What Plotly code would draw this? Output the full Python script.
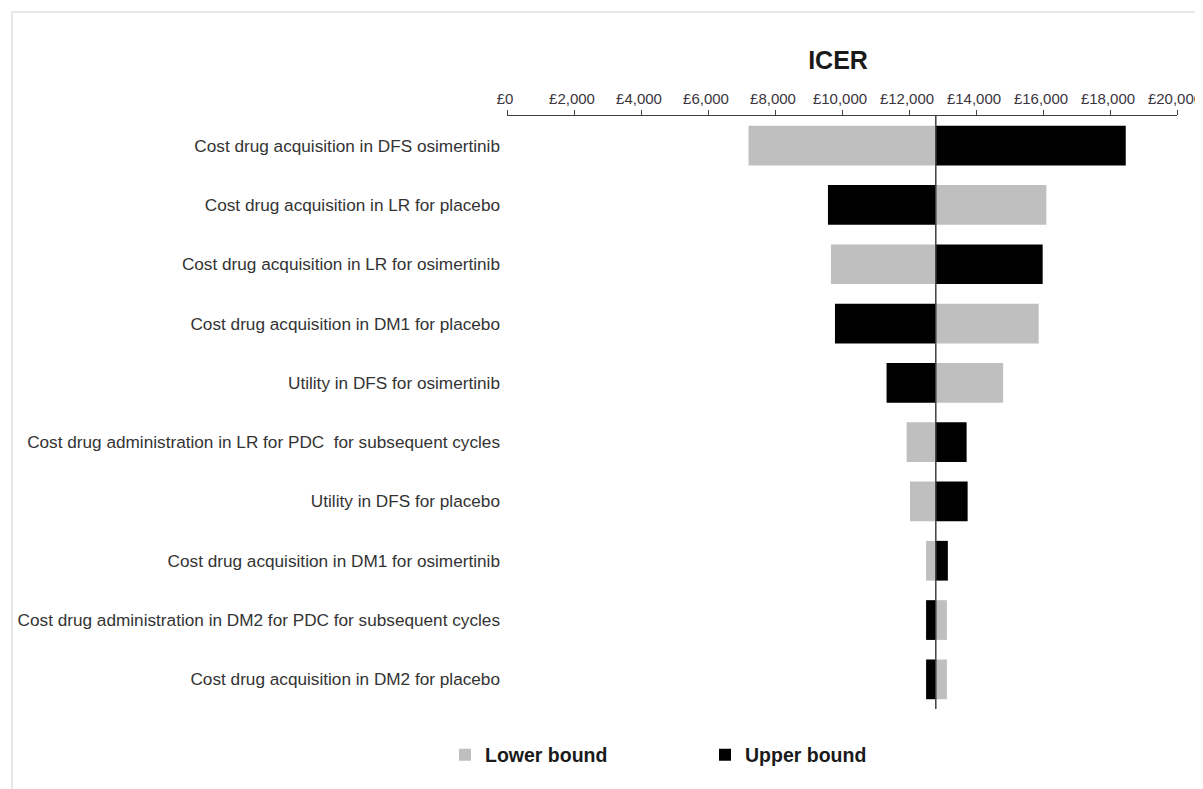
import plotly.graph_objects as go

categories = [
    "Cost drug acquisition in DFS osimertinib",
    "Cost drug acquisition in LR for placebo",
    "Cost drug acquisition in LR for osimertinib",
    "Cost drug acquisition in DM1 for placebo",
    "Utility in DFS for osimertinib",
    "Cost drug administration in LR for PDC  for subsequent cycles",
    "Utility in DFS for placebo",
    "Cost drug acquisition in DM1 for osimertinib",
    "Cost drug administration in DM2 for PDC for subsequent cycles",
    "Cost drug acquisition in DM2 for placebo",
]
base_icer = 12800
lower_bound = [7210, 16100, 9670, 15870, 14810, 11930, 12030, 12510, 13130, 13130]
upper_bound = [18470, 9580, 15990, 9790, 11330, 13720, 13750, 13160, 12510, 12510]
tick_vals = [0, 2000, 4000, 6000, 8000, 10000, 12000, 14000, 16000, 18000, 20000]
tick_text = ["£0", "£2,000", "£4,000", "£6,000", "£8,000", "£10,000", "£12,000",
             "£14,000", "£16,000", "£18,000", "£20,000"]

W, H = 1195, 781  # page body adds an 8px offset
L, R, T, B = 499, 26, 108, 80

fig = go.Figure()
fig.add_trace(go.Bar(
    y=categories, x=[v - base_icer for v in lower_bound], base=base_icer,
    orientation="h", name="Lower bound", marker=dict(color="#bfbfbf", line=dict(width=0)),
    width=0.67,
))
fig.add_trace(go.Bar(
    y=categories, x=[v - base_icer for v in upper_bound], base=base_icer,
    orientation="h", name="Upper bound", marker=dict(color="#000000", line=dict(width=0)),
    width=0.67,
))

pw = W - L - R
ph = H - T - B

fig.update_layout(
    width=W, height=H,
    barmode="overlay",
    paper_bgcolor="white", plot_bgcolor="white",
    margin=dict(l=L, r=R, t=T, b=B, autoexpand=False),
    font=dict(family="Liberation Sans, Arial, sans-serif", color="#333333"),
    title=dict(text="<b>ICER</b>", x=830 / W, xanchor="center", xref="container",
               y=1 - 52 / H, yanchor="middle", yref="container",
               font=dict(size=25, color="#1a1a1a")),
    xaxis=dict(
        side="top", range=[0, 20000], tickvals=tick_vals, ticktext=tick_text,
        showgrid=False, zeroline=False, showline=True, linecolor="#404040", linewidth=1,
        ticks="outside", ticklen=5, tickcolor="#404040", tickwidth=1,
        tickfont=dict(size=15, color="#3a3440"), automargin=False,
        ticklabeloverflow="allow", ticklabelshift=-2,
    ),
    yaxis=dict(
        autorange=False, range=[9.5, -0.5], showgrid=False, zeroline=False, showline=False,
        ticks="", ticklabelstandoff=6, automargin=False,
        tickfont=dict(size=17.2, color="#333333"),
    ),
    legend=dict(
        orientation="h", xref="container", yref="container",
        x=437 / W, y=1 - 747 / H, xanchor="left", yanchor="middle",
        entrywidth=215, entrywidthmode="pixels",
        font=dict(size=19.5, color="#1a1a1a", family="Liberation Sans, Arial, sans-serif", weight="bold"),
        itemsizing="constant",
    ),
    shapes=[
        dict(type="line", xref="x", yref="paper", x0=base_icer, x1=base_icer, y0=0, y1=1,
             line=dict(color="#404040", width=1.5)),
        dict(type="rect", xref="paper", yref="paper",
             x0=(4 - L) / pw, x1=(W + 20 - L) / pw,
             y0=(T + ph - (H + 20)) / ph, y1=(T + ph - 4) / ph,
             line=dict(color="#e8e8e8", width=2), layer="below"),
    ],
)

fig.write_html("out.html")
